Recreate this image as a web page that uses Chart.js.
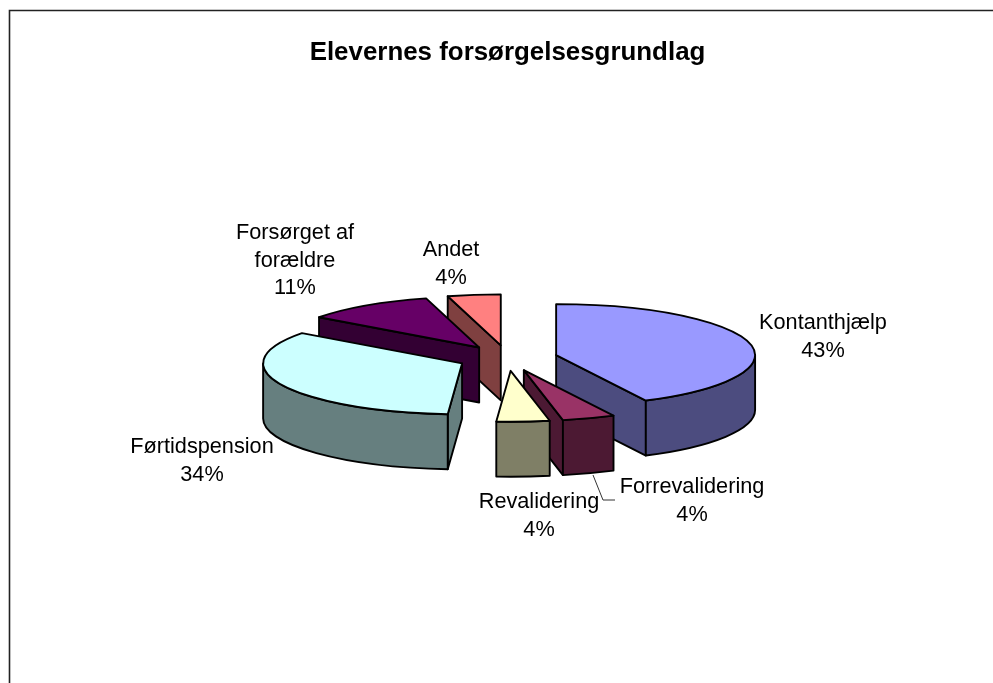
<!DOCTYPE html>
<html>
<head>
<meta charset="utf-8">
<script src="https://cdn.jsdelivr.net/npm/chart.js@4/dist/chart.umd.min.js"></script>
<style>
html,body{margin:0;padding:0;background:#fff;overflow:hidden}
canvas{display:block}
</style>
</head>
<body>
<canvas id="pieChart" width="993" height="683"></canvas>
<script>
const categories=['Kontanthjælp','Forrevalidering','Revalidering','Førtidspension','Forsørget af forældre','Andet'];
const values=[42.6,4.3,4.3,34,10.6,4.3];
const topColors=['#9999FF','#993366','#FFFFCC','#CCFFFF','#660066','#FF8080'];
const sideColors=['#4C4C7F','#4C1933','#7F7F66','#667F7F','#330033','#7F4040'];

// label text lines and where each label block sits (centre x, first baseline y)
const labelLines=[['Kontanthjælp'],['Forrevalidering'],['Revalidering'],['Førtidspension'],['Forsørget af','forældre'],['Andet']];
const labelPos=[[823,329],[692,493],[539,508],[202,453],[295,239],[451,256]];
const leader=[[593,475],[603,500],[615,500]];

const squash=0.256;   // vertical flattening of the pie
const depth=55;       // height of the extruded wall
const explode=50;     // how far slices are pulled out

function drawSlice(ctx,arc,i){
    const r=arc.outerRadius,a=arc.startAngle,b=arc.endAngle,mid=(a+b)/2;
    const cx=arc.x+Math.cos(mid)*explode;
    const cy=arc.y+Math.sin(mid)*explode*squash;
    const px=t=>cx+Math.cos(t)*r;
    const py=t=>cy+Math.sin(t)*r*squash;

    ctx.strokeStyle='#000';
    ctx.lineWidth=1.9;
    ctx.lineJoin='round';
    ctx.fillStyle=sideColors[i];

    // cut faces, only the ones turned to the viewer
    [[a,Math.cos(a)<-1e-6],[b,Math.cos(b)>1e-6]].forEach(([t,show])=>{
        if(!show) return;
        ctx.beginPath();
        ctx.moveTo(cx,cy);
        ctx.lineTo(px(t),py(t));
        ctx.lineTo(px(t),py(t)+depth);
        ctx.lineTo(cx,cy+depth);
        ctx.closePath();
        ctx.fill();
        ctx.stroke();
    });

    // outer wall
    const w0=Math.max(a,0),w1=Math.min(b,Math.PI);
    if(w1>w0){
        ctx.beginPath();
        ctx.ellipse(cx,cy,r,r*squash,0,w0,w1);
        ctx.lineTo(px(w1),py(w1)+depth);
        ctx.ellipse(cx,cy+depth,r,r*squash,0,w1,w0,true);
        ctx.closePath();
        ctx.fill();
        ctx.stroke();
    }

    // top
    ctx.fillStyle=topColors[i];
    ctx.beginPath();
    ctx.moveTo(cx,cy);
    ctx.ellipse(cx,cy,r,r*squash,0,a,b);
    ctx.closePath();
    ctx.fill();
    ctx.stroke();
}

const pie3d={
    id:'pie3d',
    beforeDraw(chart){
        const ctx=chart.ctx;
        ctx.save();
        ctx.strokeStyle='#222';
        ctx.lineWidth=1.6;
        ctx.beginPath();
        ctx.moveTo(9.5,683);
        ctx.lineTo(9.5,10.5);
        ctx.lineTo(993,10.5);
        ctx.stroke();
        ctx.restore();
    },
    beforeDatasetDraw(chart,args){
        const ctx=chart.ctx;
        const arcs=args.meta.data;
        const order=arcs.map((a,i)=>i).sort((p,q)=>
            Math.sin((arcs[p].startAngle+arcs[p].endAngle)/2)-Math.sin((arcs[q].startAngle+arcs[q].endAngle)/2));
        ctx.save();
        order.forEach(i=>drawSlice(ctx,arcs[i],i));
        ctx.restore();
        return false;
    },
    afterDraw(chart){
        const ctx=chart.ctx;
        ctx.save();
        ctx.strokeStyle='#333';
        ctx.lineWidth=1;
        ctx.beginPath();
        leader.forEach((p,i)=>i?ctx.lineTo(p[0],p[1]):ctx.moveTo(p[0],p[1]));
        ctx.stroke();
        ctx.fillStyle='#000';
        ctx.font='21.7px "Liberation Sans", Arial, sans-serif';
        ctx.textAlign='center';
        ctx.textBaseline='alphabetic';
        const total=values.reduce((s,v)=>s+v,0);
        categories.forEach((c,i)=>{
            const lines=labelLines[i].concat(Math.round(values[i]/total*100)+'%');
            lines.forEach((t,k)=>ctx.fillText(t,labelPos[i][0],labelPos[i][1]+k*27.5));
        });
        ctx.restore();
    }
};

new Chart(document.getElementById('pieChart'),{
    type:'pie',
    data:{
        labels:categories,
        datasets:[{data:values,backgroundColor:topColors,borderWidth:0}]
    },
    options:{
        responsive:false,
        animation:false,
        layout:{padding:{left:308.5,right:286.5,top:37,bottom:126}},
        plugins:{
            legend:{display:false},
            tooltip:{enabled:false},
            title:{
                display:true,
                text:'Elevernes forsørgelsesgrundlag',
                color:'#000',
                font:{family:'"Liberation Sans", Arial, sans-serif',size:25.9,weight:'bold'},
                padding:{top:0,bottom:91}
            }
        }
    },
    plugins:[pie3d]
});
</script>
</body>
</html>
